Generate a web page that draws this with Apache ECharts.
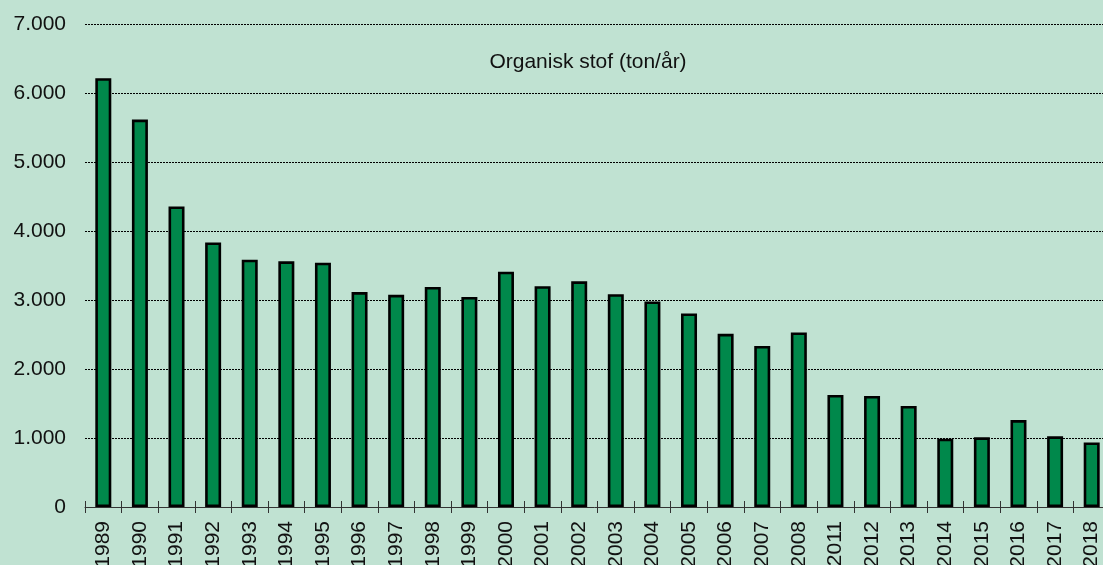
<!DOCTYPE html>
<html>
<head>
<meta charset="utf-8">
<style>
  html, body { margin: 0; padding: 0; background: #C0E2D2; }
  #chart { width: 1103px; height: 565px; }
</style>
<script src="https://cdn.jsdelivr.net/npm/echarts@6/dist/echarts.min.js"></script>
</head>
<body>
<div id="chart"></div>
<script>
const years = ['1989','1990','1991','1992','1993','1994','1995','1996','1997','1998','1999','2000','2001','2002','2003','2004','2005','2006','2007','2008','2011','2012','2013','2014','2015','2016','2017','2018'];
const organicMatter = [6215, 5615, 4355, 3835, 3585, 3560, 3540, 3115, 3075, 3190, 3045, 3410, 3200, 3270, 3085, 2980, 2805, 2510, 2335, 2530, 1625, 1610, 1465, 990, 1010, 1260, 1025, 935];
const yTicks = { min: 0, max: 7000, interval: 1000 };
const titleText = 'Organisk stof (ton/år)';

function fmt(v) {
  if (v === 0) return '0';
  return String(v).replace(/\B(?=(\d{3})+(?!\d))/g, '.');
}

const chart = echarts.init(document.getElementById('chart'), null, { renderer: 'canvas' });
const font = 'Liberation Sans, Arial, sans-serif';
chart.setOption({
  backgroundColor: '#C0E2D2',
  animation: false,
  title: {
    text: titleText,
    left: 583,
    top: 47,
    textAlign: 'center',
    textStyle: { fontFamily: font, fontSize: 21, fontWeight: 'normal', color: '#111' }
  },
  grid: { left: 85, top: 24, width: 1025, height: 483, containLabel: false, outerBoundsMode: 'none' },
  xAxis: [{
    type: 'category',
    data: years,
    position: 'bottom',
    axisLine: { show: true, lineStyle: { color: '#333', width: 1 } },
    axisTick: { show: true, alignWithLabel: false, length: 6, lineStyle: { color: '#333', width: 1 } },
    axisLabel: { rotate: 90, margin: 14, fontFamily: font, fontSize: 21, color: '#111', interval: 0 },
    splitLine: { show: false }
  }, {
    type: 'category',
    data: years,
    position: 'bottom',
    gridIndex: 0,
    axisLine: { show: false },
    axisTick: { show: true, inside: true, length: 6, lineStyle: { color: '#333', width: 1 } },
    axisLabel: { show: false },
    splitLine: { show: false }
  }],
  yAxis: {
    type: 'value',
    min: yTicks.min,
    max: yTicks.max,
    interval: yTicks.interval,
    axisLine: { show: false },
    axisTick: { show: false },
    axisLabel: { margin: 19, fontFamily: font, fontSize: 21, color: '#111', formatter: fmt },
    splitLine: { show: true, lineStyle: { color: '#000', width: 1, type: [2, 1] } }
  },
  series: [{
    type: 'bar',
    xAxisIndex: 0,
    data: organicMatter,
    barWidth: 16,
    itemStyle: { color: '#00884B', borderColor: '#000', borderWidth: 2.6 },
    z: 3
  }]
});
</script>
</body>
</html>
